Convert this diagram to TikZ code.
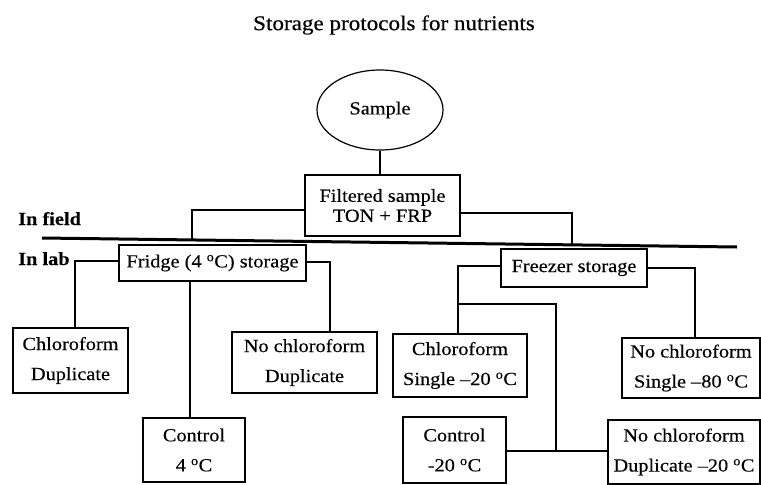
\documentclass[tikz,border=0pt]{standalone}
\usepackage{fontspec}
\setmainfont[FakeStretch=1.1,FakeBold=0.3]{Liberation Serif}
\usetikzlibrary{shapes.geometric,calc}
\newcommand{\dgC}{\textsuperscript{o}C}
\begin{document}
\begin{tikzpicture}[x=1pt,y=-1pt,
  box/.style={draw, line width=1.2pt, inner sep=0pt, align=center,
    font=\fontsize{18.5}{30}\selectfont},
  conn/.style={line width=1.2pt},
  lbl/.style={font=\bfseries\fontsize{18.5}{20}\selectfont, inner sep=0pt, anchor=base west}]
\useasboundingbox (0,0) rectangle (761,485);
\node[font=\fontsize{21}{22}\selectfont] (title) at (394,25) {Storage protocols for nutrients};
\node[draw, ellipse, line width=1.2pt, minimum width=126, minimum height=80, inner sep=0pt,
  font=\fontsize{18.5}{20}\selectfont] (sample) at (380,110) {Sample};
\node[box, font=\fontsize{18.5}{20}\selectfont, minimum width=155, minimum height=61] (filt)
  at (382.5,205.5) {Filtered sample\\TON + FRP};
\node[lbl] (infield) at (18,225) {In field};
\node[lbl] (inlab) at (18,265) {In lab};
\node[box, minimum width=187, minimum height=36] (fridge) at (212.5,263) {Fridge (4 \dgC) storage};
\node[box, minimum width=146, minimum height=38] (freezer) at (574,268) {Freezer storage};
\node[box, minimum width=115, minimum height=65] (chldup) at (70.5,360.5) {Chloroform\\Duplicate};
\node[box, minimum width=145, minimum height=61] (nochldup) at (304.5,362.5) {No chloroform\\Duplicate};
\node[box, minimum width=102, minimum height=64] (ctl4) at (194,450) {Control\\4 \dgC};
\node[box, minimum width=134, minimum height=63] (chlsgl) at (460,365.5) {Chloroform\\Single –20 \dgC};
\node[box, minimum width=138, minimum height=60] (nochlsgl) at (691,368) {No chloroform\\Single –80 \dgC};
\node[box, minimum width=103, minimum height=66] (ctl20) at (454.5,450) {Control\\-20 \dgC};
\node[box, minimum width=152, minimum height=64] (nochldup20) at (684,452) {No chloroform\\Duplicate –20 \dgC};
% field / lab divider
\coordinate (tl) at (42,238);
\coordinate (tr) at (737,247);
\coordinate (fa) at (192,240);
\coordinate (fb) at (572,245);
\draw[line width=3pt] (tl) -- (tr);
% connectors
\draw[conn] (sample.south) -- (sample.south |- filt.north);
\draw[conn] (filt.west |- 0,210) -- (192,210) -- (fa);
\draw[conn] (filt.east |- 0,213) -- (572,213) -- (fb);
\draw[conn] (fridge.west |- 0,261) -- (75,261) -- (75,0 |- chldup.north);
\draw[conn] (fridge.east |- 0,262) -- (330,262) -- (330,0 |- nochldup.north);
\draw[conn] (190,0 |- fridge.south) -- (190,0 |- ctl4.north);
\draw[conn] (freezer.west |- 0,266) -- (458,266) -- (458,0 |- chlsgl.north);
\coordinate (fz1) at (458,304);
\coordinate (fz2) at (556,451);
\draw[conn] (fz1) -- (fz2 |- fz1) -- (fz2);
\draw[conn] (ctl20.east |- fz2) -- (nochldup20.west |- fz2);
\draw[conn] (freezer.east |- 0,268) -- (695,268) -- (695,0 |- nochlsgl.north);
\end{tikzpicture}
\end{document}
